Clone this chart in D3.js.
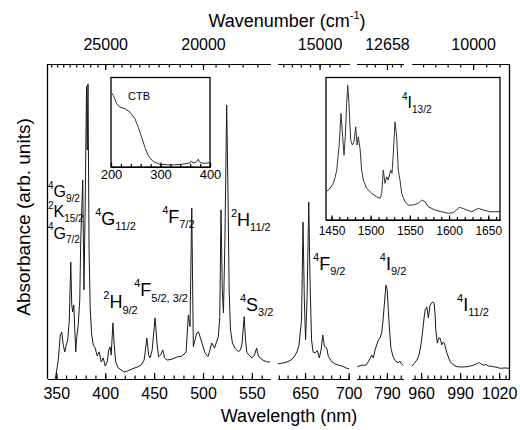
<!DOCTYPE html>
<html lang="en">
<head>
  <meta charset="UTF-8" />
  <title>Er absorption spectrum</title>
  <script src="https://d3js.org/d3.v7.min.js"></script>
  <style>
    body { margin: 0; background: white; }
    svg { display: block; font-family: "Liberation Sans", Arial, sans-serif; }
    .spec { fill: none; stroke: #1a1a1a; stroke-width: 1; stroke-linejoin: round; }
    .inspec { fill: none; stroke: #333; stroke-width: 1; stroke-linejoin: round; }
    .frame { stroke: black; stroke-width: 1.3; fill: none; }
    .axis path, .axis line { stroke: black; stroke-width: 1.2; }
  </style>
</head>
<body>
<script>
// UV / visible part (nm, arb. units)
const p1Wl = [349.0, 352.0, 354.1, 355.6, 357.1, 358.7, 360.2, 361.7, 363.3, 364.8,
  365.8, 366.8, 367.9, 368.9, 369.9, 370.9, 372.4, 374.0, 375.0, 377.0,
  378.3, 379.6, 380.9, 381.6, 382.4, 383.5, 384.7, 386.2, 387.8, 389.8,
  391.8, 393.9, 395.9, 398.0, 400.0, 402.0, 403.6, 405.1, 406.1, 407.9,
  409.2, 410.7, 413.3, 416.3, 419.4, 422.4, 427.6, 432.7, 436.7, 439.8,
  442.6, 444.4, 445.9, 448.0, 451.0, 453.1, 454.6, 456.6, 458.9, 460.7,
  463.3, 468.4, 473.5, 478.6, 482.7, 485.0, 486.7, 488.5, 490.1, 491.8,
  493.6, 495.4, 497.4, 499.5, 502.0, 505.1, 507.1, 508.9, 510.2, 511.7,
  513.8, 515.6, 517.1, 518.4, 519.7, 520.9, 522.4, 524.2, 525.5, 526.7,
  528.1, 530.1, 532.7, 536.0, 538.3, 539.8, 542.1, 543.4, 544.9, 548.0,
  550.0, 552.6, 554.8, 556.6, 558.2, 561.2, 565.0, 568.4];
const p1Abs = [0, 6.0, 14.0, 14.9, 10.8, 8.6, 10.8, 12.4, 18.7, 37.1,
  23.5, 21.3, 23.5, 15.6, 8.6, 13.3, 17.1, 25.1, 44.1, 63.2,
  28.3, 56.8, 93.0, 72.7, 93.7, 41.0, 21.9, 14.0, 10.8, 9.8,
  7.3, 8.6, 5.4, 6.7, 4.1, 5.4, 9.2, 10.2, 7.6, 17.8,
  10.8, 5.4, 3.5, 2.9, 2.2, 2.5, 3.2, 3.8, 4.4, 6.0,
  13.0, 7.6, 6.7, 9.2, 19.4, 10.8, 7.1, 7.6, 9.2, 6.7,
  6.0, 6.3, 7.0, 7.3, 8.6, 20.3, 16.6, 54.3, 10.3, 12.4,
  14.6, 15.0, 13.0, 10.8, 8.3, 7.1, 9.2, 11.4, 10.8, 9.8,
  11.7, 13.3, 19.4, 53.7, 28.3, 21.0, 44.1, 87.0, 60.0, 28.3,
  15.6, 11.4, 9.8, 8.7, 9.2, 11.1, 19.8, 12.4, 8.3, 7.3,
  6.7, 7.6, 9.8, 7.3, 6.7, 6.0, 5.5, 5.4];

// 4F9/2 region
const p2Wl = [619.0, 624.7, 629.3, 633.9, 637.4, 640.8, 643.1, 646.0, 647.7, 649.2,
  650.6, 652.3, 654.3, 655.7, 657.5, 659.2, 661.5, 664.1, 666.4, 668.4,
  670.3, 672.2, 674.9, 676.8, 680.7, 684.5, 688.3, 692.5, 698.0, 700.6];
const p2Abs = [4.8, 5.1, 5.4, 6.0, 7.0, 8.6, 10.8, 18.7, 49.8, 25.1,
  12.4, 25.1, 56.2, 31.4, 12.4, 8.6, 8.3, 9.0, 6.7, 9.2,
  14.0, 10.3, 9.8, 7.1, 5.5, 4.8, 4.4, 4.1, 3.4, 3.2];

// 4I9/2 region
const p3Wl = [768.6, 771.9, 775.0, 776.8, 777.9, 779.1, 780.2, 781.4, 782.6, 783.8,
  785.0, 786.2, 787.1, 788.1, 789.3, 790.2, 791.1, 791.8, 792.9, 794.3,
  795.7, 798.1, 799.3, 800.5, 801.8];
const p3Abs = [3.9, 4.4, 4.4, 5.7, 6.6, 7.6, 6.7, 9.2, 10.8, 12.4,
  13.0, 14.6, 18.1, 23.5, 29.8, 28.3, 21.3, 16.2, 9.8, 7.3,
  6.0, 5.1, 5.7, 4.8, 4.4];

// 4I11/2 region
const p4Wl = [953.1, 954.6, 956.7, 958.1, 959.2, 960.4, 961.3, 962.3, 963.1, 964.4,
  965.6, 966.9, 968.1, 969.0, 970.0, 970.8, 971.3, 972.5, 973.6, 974.6,
  975.9, 976.9, 977.9, 979.8, 982.3, 984.6, 987.5, 990.8, 995.2, 997.7,
  1000.2, 1002.7, 1004.2, 1005.4, 1007.9, 1010.0, 1011.8, 1013.8, 1015.6, 1018.5,
  1020.8, 1024.6, 1027.7];
const p4Abs = [4.1, 4.9, 6.0, 7.3, 9.2, 12.4, 15.6, 19.4, 21.9, 22.9,
  19.4, 23.5, 24.1, 24.5, 24.1, 20.3, 15.6, 11.4, 13.0, 13.0,
  10.8, 11.7, 11.4, 8.3, 5.5, 4.6, 3.9, 3.8, 3.9, 4.1,
  4.4, 4.8, 5.2, 5.0, 4.4, 4.6, 4.1, 4.1, 3.9, 3.7,
  3.4, 3.5, 3.4];

// inset: charge transfer band
const ctbWl = [200.0, 204.6, 208.1, 211.5, 218.2, 228.3, 238.4, 248.5, 255.2, 262.0,
  268.7, 275.4, 285.5, 299.0, 322.6, 342.8, 359.6, 362.6, 365.7, 371.7,
  376.4, 378.8, 383.8, 389.9, 400.0];
const ctbAbs = [83.8, 80.0, 75.5, 70.7, 66.9, 65.0, 61.2, 53.8, 44.3, 33.0,
  21.8, 12.4, 6.0, 3.0, 2.3, 3.0, 4.5, 6.8, 4.5, 5.1,
  8.7, 5.6, 4.2, 4.2, 4.8];

// inset: 4I13/2 band
const nirWl = [1443.0, 1448.1, 1452.3, 1454.7, 1456.7, 1460.0, 1462.1, 1464.3, 1466.0, 1467.6,
  1469.4, 1470.7, 1472.3, 1474.5, 1476.6, 1478.7, 1480.9, 1482.6, 1484.2, 1486.4,
  1488.5, 1490.6, 1494.9, 1501.3, 1507.7, 1511.9, 1514.1, 1516.1, 1518.3, 1520.4,
  1522.5, 1525.5, 1527.2, 1528.9, 1531.0, 1533.2, 1535.2, 1537.4, 1539.6, 1543.8,
  1548.0, 1554.4, 1560.8, 1565.1, 1569.3, 1573.5, 1582.1, 1590.6, 1599.0, 1605.4,
  1613.1, 1617.4, 1622.5, 1628.9, 1637.3, 1643.7, 1652.2, 1665.0];
const nirAbs = [19.8, 22.2, 25.7, 30.1, 35.0, 53.7, 74.8, 58.4, 45.5, 58.4,
  81.8, 94.6, 81.8, 56.1, 52.6, 54.9, 65.4, 52.6, 58.4, 50.2,
  35.0, 28.0, 22.2, 18.7, 16.3, 15.2, 18.7, 35.0, 25.7, 30.3,
  28.0, 35.0, 32.7, 46.7, 68.9, 58.4, 35.0, 28.0, 18.7, 12.8,
  10.5, 10.5, 11.7, 14.0, 12.8, 9.3, 7.0, 5.8, 4.7, 5.1,
  8.9, 8.2, 7.0, 5.8, 8.2, 7.0, 5.8, 5.8];

// tick labels
const p1Ticks = [350, 400, 450, 500, 550];
const p2Ticks = [650, 700];
const p3Ticks = [790];
const p4Ticks = [960, 990, 1020];
const wnTicks = [[25000, 20000], [15000], [12658], [10000]];
const ctbTicks = [200, 300, 400];
const nirTicks = [1450, 1500, 1550, 1600, 1650];

const w = 520, h = 430;
const yTop = 64, yBot = 379;

const svg = d3.select('body').append('svg')
  .attr('width', w)
  .attr('height', h);

const yScale = d3.scaleLinear().domain([0, 100]).range([yBot, yTop]);

const panels = [
  { wl: p1Wl, abs: p1Abs, x: d3.scaleLinear().domain([341, 569]).range([47.5, 270.5]),
    minor: d3.range(350, 561, 10), major: p1Ticks, topMinor: d3.range(29000, 17999, -500) },
  { wl: p2Wl, abs: p2Abs, x: d3.scaleLinear().domain([619, 701]).range([278, 349.5]),
    minor: d3.range(620, 701, 10), major: p2Ticks, topMinor: d3.range(16000, 14499, -250) },
  { wl: p3Wl, abs: p3Abs, x: d3.scaleLinear().domain([768, 802]).range([356.5, 403.5]),
    minor: d3.range(770, 801, 5), major: p3Ticks, topMinor: [12900, 12800, 12600, 12500] },
  { wl: p4Wl, abs: p4Abs, x: d3.scaleLinear().domain([953, 1028]).range([412, 509.5]),
    minor: d3.range(955, 1026, 5), major: p4Ticks, topMinor: d3.range(10400, 9799, -100) }
];

function styleAxis(g, size) {
  g.attr('class', 'axis').attr('font-family', null).attr('font-size', size);
  g.selectAll('text').attr('fill', 'black');
}

// frame sides
svg.append('line').attr('class', 'frame')
  .attr('x1', 47.5).attr('x2', 47.5).attr('y1', yTop).attr('y2', yBot);
svg.append('line').attr('class', 'frame')
  .attr('x1', 509.5).attr('x2', 509.5).attr('y1', yTop).attr('y2', yBot);

panels.forEach((p, i) => {
  // bottom: wavelength
  svg.append('g')
    .attr('transform', `translate(0,${yBot})`)
    .call(d3.axisBottom(p.x).tickValues(p.minor).tickSizeInner(-3.5).tickSizeOuter(0).tickFormat(''))
    .call(g => styleAxis(g, 16));
  svg.append('g')
    .attr('transform', `translate(0,${yBot})`)
    .call(d3.axisBottom(p.x).tickValues(p.major).tickSizeInner(-6).tickSizeOuter(0).tickPadding(9).tickFormat(d3.format('d')))
    .call(g => styleAxis(g, 16));

  // top: wavenumber, placed on the wavelength scale
  svg.append('g')
    .attr('transform', `translate(0,${yTop})`)
    .call(d3.axisTop(p.x).tickValues(p.topMinor.map(v => 1e7 / v)).tickSizeInner(-3.5).tickSizeOuter(0).tickFormat(''))
    .call(g => styleAxis(g, 16));
  svg.append('g')
    .attr('transform', `translate(0,${yTop})`)
    .call(d3.axisTop(p.x).tickValues(wnTicks[i].map(v => 1e7 / v)).tickSizeInner(-6).tickSizeOuter(0).tickPadding(14)
      .tickFormat(d => Math.round(1e7 / d)))
    .call(g => styleAxis(g, 16));

  const line = d3.line()
    .x(d => p.x(d[0]))
    .y(d => yScale(d[1]));
  svg.append('path')
    .attr('class', 'spec')
    .attr('d', line(d3.zip(p.wl, p.abs)));
});

// insets
function inset(wl, abs, dom, xr, yr, minor, major, fs, pad) {
  const x = d3.scaleLinear().domain(dom).range(xr);
  const y = d3.scaleLinear().domain([0, 100]).range(yr);
  svg.append('rect')
    .attr('x', xr[0]).attr('y', yr[1])
    .attr('width', xr[1] - xr[0]).attr('height', yr[0] - yr[1])
    .attr('fill', 'white').attr('stroke', 'black').attr('stroke-width', 1.3);
  svg.append('path')
    .attr('class', 'inspec')
    .attr('d', d3.line().x(d => x(d[0])).y(d => y(d[1]))(d3.zip(wl, abs)));
  svg.append('g')
    .attr('transform', `translate(0,${yr[0]})`)
    .call(d3.axisBottom(x).tickValues(minor).tickSizeInner(-3).tickSizeOuter(0).tickFormat(''))
    .call(g => styleAxis(g, fs));
  svg.append('g')
    .attr('transform', `translate(0,${yr[0]})`)
    .call(d3.axisBottom(x).tickValues(major).tickSizeInner(-4.5).tickSizeOuter(0).tickPadding(pad).tickFormat(d3.format('d')))
    .call(g => styleAxis(g, fs));
  return { x, y };
}

const ctb = inset(ctbWl, ctbAbs, [200, 400], [111, 210], [167, 77.5], d3.range(200, 401, 20), ctbTicks, 13, 3);
const nir = inset(nirWl, nirAbs, [1443, 1665], [326, 500], [220, 77.5], d3.range(1450, 1661, 10), nirTicks, 12, 6);

// term labels
function level(x, y, sup, main, sub, size) {
  const s = Math.round(size * 0.62);
  const t = svg.append('text').attr('x', x).attr('y', y).attr('font-size', size);
  t.append('tspan').attr('font-size', s).attr('dy', -size * 0.52).text(sup);
  t.append('tspan').attr('dy', size * 0.52).text(main);
  t.append('tspan').attr('font-size', s).attr('dy', size * 0.3).text(sub);
}

const levels = [
  [0, 341.5, 57.8, '4', 'G', '9/2', 16],
  [0, 341.5, 51.4, '2', 'K', '15/2', 16],
  [0, 341.5, 44.6, '4', 'G', '7/2', 16],
  [0, 389.8, 48.9, '4', 'G', '11/2', 18],
  [0, 458.2, 49.5, '4', 'F', '7/2', 18],
  [0, 528.6, 48.6, '2', 'H', '11/2', 18],
  [0, 398.0, 22.5, '2', 'H', '9/2', 18],
  [0, 429.6, 26.3, '4', 'F', '5/2, 3/2', 18],
  [0, 537.8, 21.6, '4', 'S', '3/2', 18],
  [1, 659.2, 34.6, '4', 'F', '9/2', 18],
  [2, 784.9, 34.6, '4', 'I', '9/2', 18],
  [3, 987.7, 21.6, '4', 'I', '11/2', 18]
];
levels.forEach(l => level(panels[l[0]].x(l[1]), yScale(l[2]), l[3], l[4], l[5], l[6]));
level(nir.x(1540), nir.y(78.5), '4', 'I', '13/2', 16);

svg.append('text')
  .attr('x', ctb.x(234.3)).attr('y', ctb.y(74.4))
  .attr('font-size', 11)
  .text('CTB');

// axis titles
const wn = svg.append('text')
  .attr('x', 287).attr('y', 27)
  .attr('text-anchor', 'middle')
  .attr('font-size', 18);
wn.append('tspan').text('Wavenumber (cm');
wn.append('tspan').attr('font-size', 11).attr('dy', -8).text('-1');
wn.append('tspan').attr('dy', 8).text(')');

svg.append('text')
  .attr('x', 289).attr('y', 422)
  .attr('text-anchor', 'middle')
  .attr('font-size', 18)
  .text('Wavelength (nm)');

svg.append('text')
  .attr('transform', 'translate(30,217) rotate(-90)')
  .attr('text-anchor', 'middle')
  .attr('font-size', 19)
  .text('Absorbance (arb. units)');
</script>
</body>
</html>
